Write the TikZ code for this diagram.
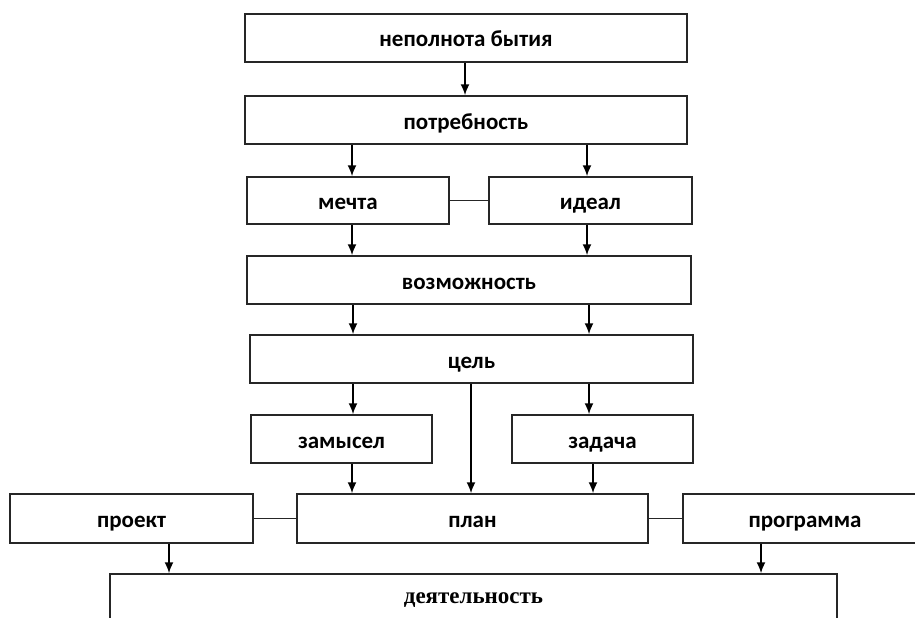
\documentclass[tikz,border=0pt]{standalone}
\usepackage{fontspec}
\setmainfont{Carlito}
\newfontfamily\serifbf{Liberation Serif}
\usetikzlibrary{arrows.meta}
\tikzset{>={Latex[length=11pt,width=9pt]}}
\tikzset{box/.style={draw=black!85, line width=1.5pt, minimum height=48pt, inner sep=0pt, text height=18pt, text depth=0pt, font=\bfseries\fontsize{23}{26}\selectfont}}
\tikzset{link/.style={draw=black!85, line width=1.5pt}}
\tikzset{arr/.style={->, line width=1.7pt}}

\begin{document}
\begin{tikzpicture}[x=1pt,y=-1pt]
  \useasboundingbox (0,0) rectangle (915,618);
  \clip (0,0) rectangle (915,618);
  % boxes
  \node (nepol) at (466,38) [box, minimum width=442pt] {неполнота бытия};
  \node (potreb) at (466,120) [box, minimum width=442pt] {потребность};
  \node (mechta) at (348,200.5) [box, minimum width=202pt, minimum height=47pt] {мечта};
  \node (ideal) at (590.5,200.5) [box, minimum width=203pt, minimum height=47pt] {идеал};
  \node (vozm) at (469,280) [box, minimum width=444pt] {возможность};
  \node (tsel) at (471.5,359) [box, minimum width=443pt] {цель};
  \node (zamysel) at (341.5,439) [box, minimum width=181pt] {замысел};
  \node (zadacha) at (602.5,439) [box, minimum width=181pt] {задача};
  \node (plan) at (472.5,518.5) [box, minimum width=351pt, minimum height=49pt] {план};
  \node (proekt) at (131.5,518.5) [box, minimum width=243pt, minimum height=49pt] {проект};
  \node (programma) at (805,518.5) [box, minimum width=244pt, minimum height=49pt] {программа};
  \node (deyat) at (473.5,598) [box, minimum width=727pt, text height=10pt, font=\serifbf\bfseries\fontsize{23}{26}\selectfont] {деятельность};
  % plain links
  \draw[link] (mechta) -- (ideal);
  \draw[link] (proekt) -- (plan);
  \draw[link] (plan) -- (programma);
  % arrows
  \foreach \a/\b/\x in {nepol/potreb/465, potreb/mechta/352, potreb/ideal/587,
      mechta/vozm/352, ideal/vozm/587, vozm/tsel/353, vozm/tsel/589,
      tsel/zamysel/353, tsel/plan/471, tsel/zadacha/589,
      zamysel/plan/352, zadacha/plan/593, proekt/deyat/169, programma/deyat/761}
    \draw[arr] (\a.south -| \x,0) -- (\b.north -| \x,0);
\end{tikzpicture}
\end{document}
